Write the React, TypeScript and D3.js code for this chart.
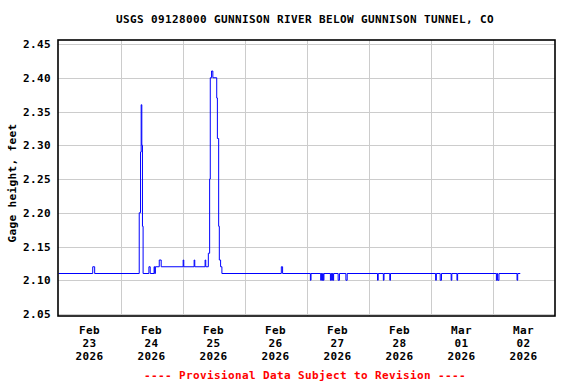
import React from "react";
import * as d3 from "d3";

const title = "USGS 09128000 GUNNISON RIVER BELOW GUNNISON TUNNEL, CO";
const yLabel = "Gage height, feet";
const footer = "---- Provisional Data Subject to Revision ----";
const yTicks = [2.05, 2.1, 2.15, 2.2, 2.25, 2.3, 2.35, 2.4, 2.45];
const startDate = new Date(2026, 1, 23);
const endDate = new Date(2026, 2, 3);

// hours since Feb 23 2026 00:00 and gage height (step series)
const hours = [
  0, 13.25, 14.0,
  31.25, 31.75, 32.0, 32.25, 32.5, 32.75,
  35.0, 35.5, 37.0, 37.25, 37.5, 39.0, 39.75,
  48.25, 48.5, 52.5, 52.75, 56.75, 57.0,
  58.0, 58.5, 58.75, 59.25, 59.75, 61.25, 61.5, 62.0, 62.25, 62.75, 63.25,
  86.25, 86.75,
  97.5, 97.75,
  101.5, 101.75, 102.0, 102.25, 102.5, 102.75,
  105.25, 105.5, 105.75, 106.0, 106.25, 106.5,
  108.25, 108.75,
  111.25, 111.75,
  123.5, 123.75,
  125.75, 126.0,
  128.25, 128.5,
  146.0, 146.25,
  147.75, 148.25,
  152.0, 152.25,
  154.25, 154.5,
  169.5, 169.75, 170.0, 170.5,
  177.5, 177.75,
  178.75,
];
const heights = [
  2.11, 2.12, 2.11,
  2.2, 2.29, 2.36, 2.3, 2.18, 2.11,
  2.12, 2.11, 2.12, 2.11, 2.12, 2.13, 2.12,
  2.13, 2.12, 2.13, 2.12, 2.13, 2.12,
  2.14, 2.25, 2.4, 2.41, 2.4, 2.37, 2.31, 2.18, 2.13, 2.12, 2.11,
  2.12, 2.11,
  2.1, 2.11,
  2.1, 2.11, 2.1, 2.11, 2.1, 2.11,
  2.1, 2.11, 2.1, 2.11, 2.1, 2.11,
  2.1, 2.11,
  2.1, 2.11,
  2.1, 2.11,
  2.1, 2.11,
  2.1, 2.11,
  2.1, 2.11,
  2.1, 2.11,
  2.1, 2.11,
  2.1, 2.11,
  2.1, 2.11, 2.1, 2.11,
  2.1, 2.11,
  2.11,
];

const FONT = "'DejaVu Sans Mono', monospace";

export default function App() {
  const left = 58, right = 555, top = 40, bottom = 316;
  const x = d3.scaleTime().domain([startDate, endDate]).range([58.5, 554.5]);
  const y = d3.scaleLinear().domain([2.05, 2.45]).range([314, 44]);
  const data = hours.map((h, i) => ({ t: new Date(startDate.getTime() + h * 3600e3), v: heights[i] }));
  const line = d3
    .line<{ t: Date; v: number }>()
    .x((d) => x(d.t))
    .y((d) => y(d.v))
    .curve(d3.curveStepAfter);
  const days = d3.timeDay.range(startDate, endDate);
  const fmtM = d3.timeFormat("%b");
  const fmtD = d3.timeFormat("%d");
  const fmtY = d3.timeFormat("%Y");
  return (
    <svg width={576} height={384} style={{ position: "absolute", left: 0, top: 0, background: "#fff" }}>
      <rect x={0} y={0} width={576} height={384} fill="#fff" />
      <text x={305} y={23} textAnchor="middle" fontFamily={FONT} fontWeight="bold" fontSize={11} letterSpacing={0.38} fill="#000">
        {title}
      </text>
      {yTicks.map((t) => (
        <line key={"gy" + t} x1={left} x2={right} y1={Math.round(y(t)) + 0.5} y2={Math.round(y(t)) + 0.5} stroke="#cccccc" strokeWidth={1} />
      ))}
      {days.slice(1).map((d) => (
        <line key={"gx" + d.getTime()} x1={Math.round(x(d)) + 0.5} x2={Math.round(x(d)) + 0.5} y1={top} y2={bottom} stroke="#cccccc" strokeWidth={1} />
      ))}
      <path d={line(data) || ""} fill="none" stroke="#0000ff" strokeWidth={1} />
      <rect x={left} y={top} width={right - left} height={bottom - top} fill="none" stroke="#000" strokeWidth={1.6} />
      {yTicks.map((t) => (
        <text key={"ty" + t} x={51} y={y(t) + 4} textAnchor="end" fontFamily={FONT} fontWeight="bold" fontSize={11} letterSpacing={0.38} fill="#000">
          {t.toFixed(2)}
        </text>
      ))}
      {days.map((d) => {
        const cx = x(new Date(d.getTime() + 12 * 3600e3));
        return (
          <g key={"tx" + d.getTime()} fontFamily={FONT} fontWeight="bold" fontSize={11} letterSpacing={0.38} fill="#000" textAnchor="middle">
            <text x={cx} y={334}>{fmtM(d)}</text>
            <text x={cx} y={347}>{fmtD(d)}</text>
            <text x={cx} y={360}>{fmtY(d)}</text>
          </g>
        );
      })}
      <text transform={`translate(16,183) rotate(-90)`} textAnchor="middle" fontFamily={FONT} fontWeight="bold" fontSize={11} letterSpacing={0.38} fill="#000">
        {yLabel}
      </text>
      <text x={305} y={379} textAnchor="middle" fontFamily={FONT} fontWeight="bold" fontSize={11} letterSpacing={0.38} fill="#ff0000">
        {footer}
      </text>
    </svg>
  );
}
